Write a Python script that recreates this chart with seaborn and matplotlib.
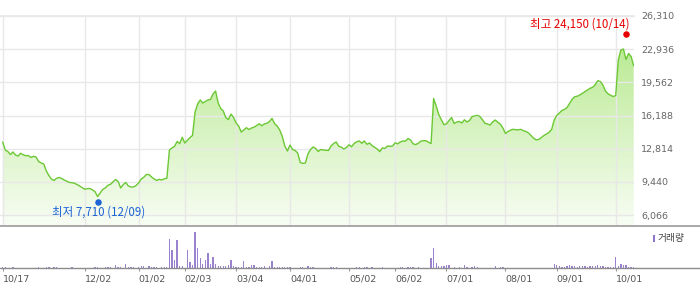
import numpy as np
import pandas as pd
import matplotlib
matplotlib.use("Agg")
import matplotlib.pyplot as plt
import seaborn as sns
from matplotlib.colors import LinearSegmentedColormap
from matplotlib.lines import Line2D
from matplotlib.patches import Rectangle
from matplotlib.transforms import offset_copy

# ---------------- data ----------------
close_prices = [
    13500, 12680, 12530, 12220, 12480, 12170, 12070, 12350, 12200, 12100,
    12120, 11920, 12040, 11970, 11510, 11360, 11260, 10550, 10090, 9730,
    9580, 9800, 9890, 9780, 9630, 9500, 9380, 9360, 9300, 9170,
    9020, 8850, 8690, 8750, 8770, 8630, 8440, 7950, 8310, 8670,
    8820, 9090, 9190, 9430, 9680, 9480, 8820, 9170, 9380, 9020,
    8920, 8920, 9070, 9330, 9730, 9910, 10190, 10190, 9940, 9750,
    9580, 9700, 9630, 9760, 9800, 12680, 12890, 13060, 13550, 13340,
    13970, 13390, 13670, 13950, 14160, 16550, 17360, 17770, 17460, 17610,
    17770, 17820, 18380, 18680, 17460, 16900, 16650, 15960, 15780, 16340,
    15990, 15430, 15120, 14510, 14720, 14950, 14760, 14920, 15000, 15170,
    15350, 15150, 15330, 15400, 15580, 15890, 15370, 15120, 14720, 14060,
    13090, 12580, 13190, 12730, 12630, 12380, 11420, 11320, 11360, 12280,
    12730, 12990, 12840, 12530, 12730, 12680, 12650, 12630, 13090, 13340,
    13500, 13070, 12970, 12780, 12940, 13210, 13020, 13340, 13520, 13600,
    13370, 13600, 13260, 13390, 13140, 12960, 12780, 12520, 12890, 12840,
    13090, 13060, 13090, 13410, 13310, 13500, 13600, 13580, 13850, 13700,
    13310, 13230, 13360, 13580, 13630, 13630, 13470, 13340, 17920, 17160,
    16290, 15780, 15260, 15330, 15680, 15990, 15380, 15530, 15580, 15430,
    15760, 15530, 15680, 16080, 16140, 16210, 16090, 15780, 15400, 15330,
    15220, 15530, 15730, 15510, 15310, 14920, 14360, 14560, 14700, 14790,
    14740, 14740, 14780, 14650, 14560, 14410, 14140, 13880, 13720, 13750,
    13960, 14160, 14310, 14480, 14770, 15730, 16210, 16440, 16700, 16810,
    17000, 17410, 17840, 18100, 18150, 18280, 18450, 18630, 18800, 18960,
    19060, 19340, 19730, 19650, 19290, 18680, 18400, 18250, 18120, 18230,
    21840, 22850, 22950, 21890, 22500, 22190, 21230,
]

volume_k = [
    50, 50, 0, 0, 50, 0, 0, 0, 0, 0,
    0, 0, 0, 0, 50, 0, 0, 50, 50, 0,
    50, 50, 0, 0, 0, 0, 0, 50, 0, 0,
    0, 0, 0, 0, 0, 0, 50, 50, 0, 0,
    50, 50, 50, 0, 135, 50, 50, 0, 185, 50,
    50, 50, 0, 50, 85, 85, 0, 85, 50, 50,
    50, 0, 50, 50, 50, 1435, 885, 385, 1385, 100,
    100, 0, 885, 300, 135, 1800, 1000, 500, 215, 385,
    750, 185, 550, 215, 100, 85, 85, 85, 135, 385,
    100, 50, 50, 50, 335, 50, 50, 135, 135, 50,
    50, 50, 85, 0, 85, 335, 50, 50, 50, 50,
    50, 50, 50, 0, 0, 0, 50, 50, 0, 85,
    50, 50, 0, 0, 0, 0, 0, 0, 50, 50,
    50, 0, 0, 0, 0, 0, 0, 0, 50, 50,
    0, 50, 50, 0, 50, 0, 0, 0, 50, 0,
    0, 0, 0, 0, 0, 50, 50, 0, 50, 50,
    50, 0, 50, 0, 0, 0, 0, 500, 1000, 250,
    100, 85, 85, 135, 135, 0, 50, 0, 50, 0,
    135, 50, 0, 50, 100, 50, 0, 0, 0, 0,
    0, 0, 100, 0, 50, 50, 0, 0, 0, 0,
    0, 0, 0, 0, 0, 0, 0, 0, 0, 0,
    0, 0, 0, 0, 0, 185, 135, 100, 50, 50,
    100, 135, 100, 85, 50, 85, 100, 85, 50, 100,
    100, 100, 135, 100, 85, 50, 50, 50, 50, 550,
    85, 185, 165, 150, 65, 50, 50,
]

tick_idx = [0, 32, 53, 71, 91, 112, 135, 153, 173, 196, 216, 239]
tick_labels = ["10/17", "12/02", "01/02", "02/03", "03/04", "04/01",
               "05/02", "06/02", "07/01", "08/01", "09/01", "10/01"]
y_ticks = [6066, 9440, 12814, 16188, 19562, 22936, 26310]

low_idx, low_val = 37, 7710
low_label = "최저 7,710 (12/09)"
high_idx, high_val = 243, 24150
high_label = "최고 24,150 (10/14)"
volume_legend = "거래량"

# ---------------- style ----------------
sns.set_theme(style="white")
plt.rcParams['font.family'] = ['DejaVu Sans', 'Noto Sans CJK KR']
KR = ['Noto Sans CJK KR', 'DejaVu Sans']

W, H = 700, 289
fig = plt.figure(figsize=(W / 100, H / 100), dpi=100)
fig.patch.set_facecolor("white")


def fx(px):
    return px / W


def fy(py):
    return 1 - py / H


right_px = 633.7
ax = fig.add_axes([0, fy(225), fx(right_px), fy(16) - fy(225)])
axv = fig.add_axes([0, fy(268), fx(right_px), fy(225) - fy(268)])

df = pd.DataFrame({
    "idx": np.arange(len(close_prices)),
    "close": close_prices,
    "volume": volume_k,
})

x0, x1 = -1.05, len(close_prices) - 1
y0, y1 = 5055, 26310

# gradient fill under the line
cmap = LinearSegmentedColormap.from_list("g", ["#f8fdf4", "#b0e784"])
grad = np.linspace(0, 1, 256).reshape(-1, 1)
im = ax.imshow(grad, extent=[x0, x1, y0, y1], origin="lower", aspect="auto",
               cmap=cmap, zorder=1, interpolation="bilinear")
poly = ax.fill_between(df["idx"], df["close"], y0, facecolor="none",
                       edgecolor="none")
im.set_clip_path(poly.get_paths()[0], transform=ax.transData)

sns.lineplot(data=df, x="idx", y="close", ax=ax, color="#6cc834",
             linewidth=1.0, zorder=3)

ax.set_xlim(x0, x1)
ax.set_ylim(y0, y1)
ax.set_xticks(tick_idx)
ax.set_yticks(y_ticks)
ax.set_yticklabels([f"{v:,}" for v in y_ticks])
ax.yaxis.tick_right()
ax.grid(True, color="#e8e8e8", linewidth=1.0)
ax.set_axisbelow("line")
ax.tick_params(axis="x", length=0, labelbottom=False)
ax.tick_params(axis="y", length=0, pad=5.3, labelsize=6.8,
               labelcolor="#666666")
ax.set_xlabel("")
ax.set_ylabel("")
for s in ax.spines.values():
    s.set_visible(False)
ax.spines["top"].set_visible(True)
ax.spines["top"].set_color("#e8e8e8")

# low / high markers
ax.scatter([low_idx], [low_val], s=22, color="#1c63d6", zorder=5,
           clip_on=False, linewidths=0,
           transform=offset_copy(ax.transData, fig=fig, x=0, y=-3.4,
                                 units="dots"))
ax.annotate(low_label, (low_idx, low_val), xytext=(0.5, -13.4),
            textcoords="offset pixels", ha="center", va="center",
            color="#1c63d6", fontsize=8.3, family=KR, zorder=6)
ax.scatter([high_idx], [high_val], s=22, color="#e60000", zorder=5,
           clip_on=False, linewidths=0,
           transform=offset_copy(ax.transData, fig=fig, x=0, y=3.4,
                                 units="dots"))
ax.annotate(high_label, (high_idx, high_val), xytext=(3, 13.4),
            textcoords="offset pixels", ha="right", va="center",
            color="#e60000", fontsize=8.3, family=KR, zorder=6)

# volume
sns.barplot(data=df, x="idx", y="volume", ax=axv, native_scale=True,
            color="#9a82cf", width=0.5, linewidth=0, saturation=1,
            errorbar=None)
axv.set_xlim(x0, x1)
axv.set_ylim(0, max(volume_k) * 43 / 36.3)
axv.set_xticks(tick_idx, labels=tick_labels, ha="left")
axv.set_yticks([])
axv.tick_params(axis="x", direction="out", length=2.3, width=0.8,
                color="#999999", labelsize=6.8, labelcolor="#555555",
                pad=2.2, bottom=True)
axv.set_xlabel("")
axv.set_ylabel("")
axv.set_facecolor("none")
for s in axv.spines.values():
    s.set_visible(False)

# separators spanning full width
fig.add_artist(Line2D([0, 1], [fy(225.5)] * 2, transform=fig.transFigure,
                      color="#9a9a9a", linewidth=1.2))
fig.add_artist(Line2D([0, 1], [fy(268)] * 2, transform=fig.transFigure,
                      color="#8c8c8c", linewidth=1.0))

# volume legend
fig.add_artist(Rectangle((fx(652.7), fy(241.7)), fx(2.7), 6.7 / H,
                         transform=fig.transFigure, color="#8e74c8",
                         linewidth=0))
fig.text(fx(657.5), fy(238.3), volume_legend, ha="left", va="center",
         fontsize=7.0, color="#444444", family=KR)

fig.savefig("out.png", dpi=100, facecolor="white")
